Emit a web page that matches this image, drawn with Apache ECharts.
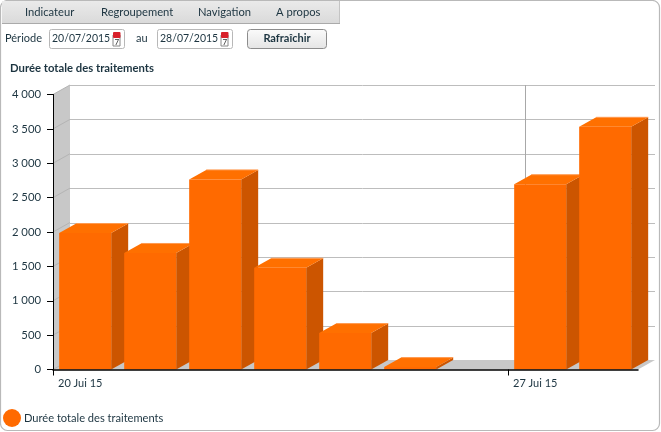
<!DOCTYPE html>
<html><head><meta charset="utf-8">
<style>html,body{margin:0;padding:0;background:#fff}#c{width:661px;height:432px}</style>
<script src="https://cdn.jsdelivr.net/npm/echarts@6/dist/echarts.min.js"></script>
</head><body><div id="c"></div>
<script>
var categories = ['20 Jui 15','21 Jui 15','22 Jui 15','23 Jui 15','24 Jui 15','25 Jui 15','26 Jui 15','27 Jui 15','28 Jui 15'];
var durations = [1985,1695,2765,1480,530,35,null,2695,3530];
var yTicks = [0,500,1000,1500,2000,2500,3000,3500,4000];
var tickIndexes = [0,7];
var seriesName = 'Durée totale des traitements';
var menuItems = [['Indicateur',25],['Regroupement',101],['Navigation',198],['A propos',276]];

var FONT='Lato, "Open Sans", sans-serif', TXT='#1c3440';
var DX=17, DY=-9.5;
var chart=echarts.init(document.getElementById('c'));

function poly(pts,fill,stroke){return {type:'polygon',shape:{points:pts},style:{fill:fill,stroke:stroke||null,lineWidth:stroke?1:0}};}
function line(a,b,c){return {type:'line',shape:{x1:a[0],y1:a[1],x2:b[0],y2:b[1]},style:{stroke:c,lineWidth:1}};}

function wall(params,api){
  var o=api.coord([0,0]),t=api.coord([0,4000]),e=api.coord([9,0]);
  var kids=[
    poly([[o[0],t[1]],[o[0]+DX,t[1]+DY],[o[0]+DX,o[1]+DY],o],'#c8c8c8'),
    poly([o,[o[0]+DX,o[1]+DY],[e[0]+DX,e[1]+DY],e],'#c8c8c8')
  ];
  yTicks.forEach(function(v){
    var p=api.coord([0,v]),q=api.coord([9,v]);
    kids.push(line(p,[p[0]+DX,p[1]+DY],'#b4b4b4'));
    if(v>0)kids.push(line([p[0]+DX,Math.round(p[1]+DY)+0.5],[q[0]+DX,Math.round(p[1]+DY)+0.5],'#bdbdbd'));
  });
  tickIndexes.forEach(function(i){
    var p=api.coord([i,0]);
    if(i>0)kids.push(line([Math.round(p[0]+DX)+0.5,o[1]+DY],[Math.round(p[0]+DX)+0.5,t[1]+DY],'#a8a8a8'));
  });
  return {type:'group',children:kids};
}
function bar3d(params,api){
  var v=api.value(1);
  if(isNaN(v))return null;
  var i=api.value(0);
  var a=api.coord([i+0.095,v]),b=api.coord([i+0.895,0]);
  var x0=a[0],x1=b[0],yt=a[1],yb=b[1];
  return {type:'group',children:[
    poly([[x1,yt],[x1+DX,yt+DY],[x1+DX,yb+DY],[x1,yb]],'#cc5500'),
    poly([[x0,yt],[x0+DX,yt+DY],[x1+DX,yt+DY],[x1,yt]],'#ff7000'),
    line([x0+DX,yt+DY],[x1+DX,yt+DY],'#ff9a50'),
    {type:'rect',shape:{x:x0,y:yt,width:x1-x0,height:yb-yt},style:{fill:'#ff6a00'}}
  ]};
}
function txt(t,x,y,extra){return {type:'text',x:x,y:y,silent:true,style:Object.assign({text:t,font:'11px '+FONT,fill:TXT,textVerticalAlign:'middle'},extra||{})};}
function cal(x,y){return [
  {type:'rect',shape:{x:x,y:y+3,width:7,height:11},style:{fill:'#fff',stroke:'#888',lineWidth:1}},
  {type:'rect',shape:{x:x,y:y,width:7.5,height:6,r:1},style:{fill:'#d8202a'}},
  txt('7',x+3.8,y+10,{font:'8px '+FONT,textAlign:'center',fill:'#333'})
];}
function input(t,x){return [
  {type:'rect',shape:{x:x+.5,y:29.5,width:75,height:19,r:2},style:{fill:'#fff',stroke:'#b8b8b8',lineWidth:1}},
  txt(t,x+3,39,{font:'10.5px '+FONT})
].concat(cal(x+64,32));}

var gfx=[
  {type:'rect',z:-10,shape:{x:.5,y:.5,width:659,height:430,r:7},style:{fill:'#fff',stroke:'#b9b9b9',lineWidth:1.2}},
  {type:'rect',shape:{x:2,y:1,width:338,height:22},style:{fill:new echarts.graphic.LinearGradient(0,0,0,1,[{offset:0,color:'#eaeaea'},{offset:1,color:'#dadada'}])}},
  {type:'line',shape:{x1:2,y1:23.5,x2:340,y2:23.5},style:{stroke:'#aaa',lineWidth:1}},
  {type:'line',shape:{x1:339.5,y1:1,x2:339.5,y2:23},style:{stroke:'#c4c4c4',lineWidth:1}},
  txt('Période',5,38),
  txt('au',136,38),
  {type:'rect',shape:{x:247.5,y:29.5,width:79,height:19,r:3},style:{fill:new echarts.graphic.LinearGradient(0,0,0,1,[{offset:0,color:'#fbfbfb'},{offset:1,color:'#e4e4e4'}]),stroke:'#8c8c8c',lineWidth:1}},
  txt('Rafraîchir',287,38,{font:'bold 11px '+FONT,textAlign:'center'})
].concat(input('20/07/2015',49),input('28/07/2015',157));
menuItems.forEach(function(m){gfx.push(txt(m[0],m[1],12,{font:'11.2px '+FONT}));});

chart.setOption({
  animation:false,
  backgroundColor:'#fff',
  title:{text:seriesName,left:5,top:58,textStyle:{fontFamily:FONT,fontSize:11.3,fontWeight:'bold',color:TXT}},
  legend:{show:true,data:[{name:seriesName,icon:'circle'}],left:-2,top:404,itemWidth:18,itemHeight:18,itemGap:2,selectedMode:false,
    textStyle:{fontFamily:FONT,fontSize:11.1,color:TXT,padding:[0,0,0,-2]}},
  grid:{left:53,right:23,top:94.5,bottom:62.5},
  xAxis:{type:'value',min:0,max:9,z:10,splitLine:{show:false},
    axisLine:{show:true,lineStyle:{color:'#000',width:1.5}},
    axisTick:{show:true,length:6,inside:false,customValues:tickIndexes,lineStyle:{color:'#000',width:1}},
    axisLabel:{show:true,customValues:tickIndexes,align:'left',margin:8,padding:[0,0,0,5],color:TXT,fontFamily:FONT,fontSize:11,
      showMinLabel:true,formatter:function(v){return categories[v];}}
  },
  yAxis:{type:'value',min:0,max:4000,interval:500,z:10,splitLine:{show:false},
    axisLine:{show:true,lineStyle:{color:'#000',width:1}},
    axisTick:{show:true,length:6,lineStyle:{color:'#000',width:1}},
    axisLabel:{margin:12,color:TXT,fontFamily:FONT,fontSize:11.3,formatter:function(v){return String(v).replace(/\B(?=(\d{3})+$)/,' ');}}
  },
  graphic:gfx,
  series:[
    {type:'custom',name:'wall',z:1,silent:true,renderItem:wall,data:[[0,0]],encode:{x:0,y:1},clip:false},
    {type:'custom',name:seriesName,z:3,renderItem:bar3d,itemStyle:{color:'#ff6a00'},clip:false,encode:{x:0,y:1},
      data:durations.map(function(v,i){return [i,v];})}
  ]
});
</script></body></html>
